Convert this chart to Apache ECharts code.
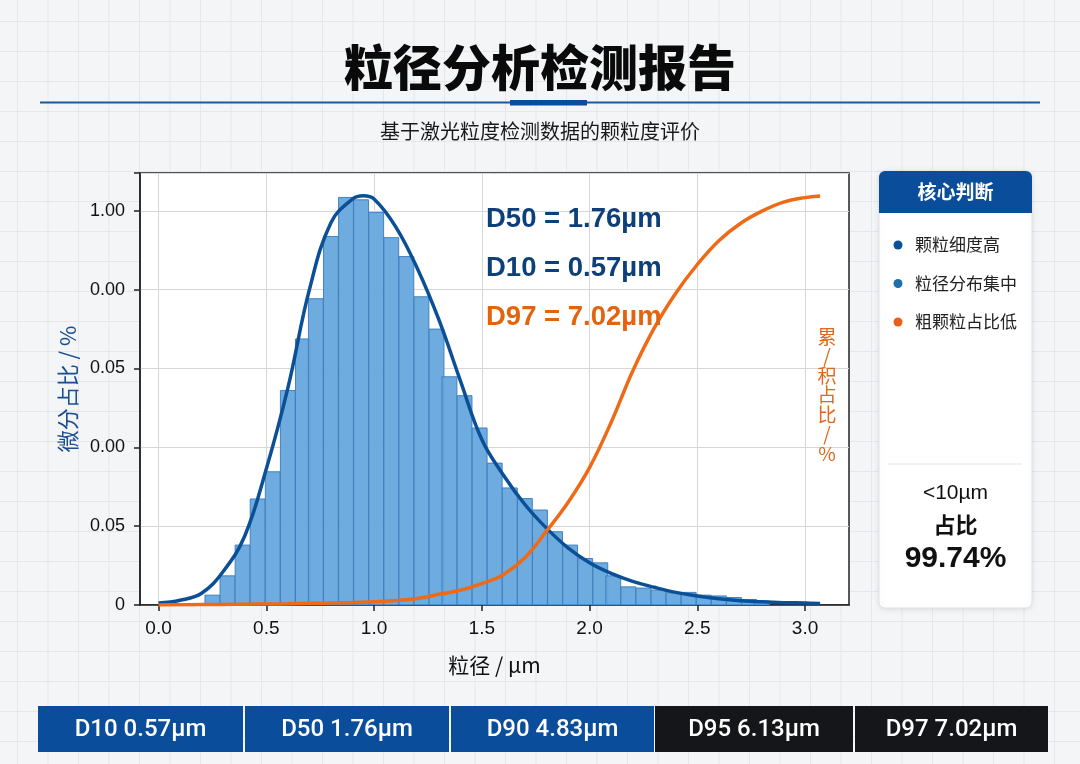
<!DOCTYPE html>
<html lang="zh">
  <head>
    <meta charset="UTF-8" />
    <title>粒径分析检测报告</title>
    <script src="https://cdn.jsdelivr.net/npm/echarts@6/dist/echarts.min.js"></script>
    <style>
      html, body { margin: 0; padding: 0; }
      body {
        background-color: #f3f5f7;
        background-image:
          linear-gradient(#e4e8ec 1px, transparent 1px),
          linear-gradient(90deg, #e4e8ec 1px, transparent 1px);
        background-size: 30.5px 30px;
        background-position: 17px 21px;
      }
      #chart { width: 1080px; height: 764px; }
    </style>
  </head>
  <body>
    <div id="chart"></div>

    <script>
      // tick labels
      const xTicks = [0, 0.5, 1.0, 1.5, 2.0, 2.5, 3.0];
      const yTickLabels = ["0", "0.05", "0.00", "0.05", "0.00", "1.00"];

      // histogram bins (centre, height)
      const binWidth = 0.069;
      const binCenters = [0.25, 0.32, 0.39, 0.46, 0.53, 0.60, 0.67, 0.73, 0.80, 0.87,
        0.94, 1.01, 1.08, 1.15, 1.22, 1.29, 1.35, 1.42, 1.49, 1.56,
        1.63, 1.70, 1.77, 1.84, 1.91, 1.98, 2.05, 2.11, 2.18, 2.25,
        2.32, 2.39, 2.46, 2.53, 2.60, 2.67, 2.74, 2.80];
      const binValues = [0.025, 0.074, 0.152, 0.269, 0.338, 0.544, 0.675, 0.777, 0.935, 1.034,
        1.028, 0.996, 0.932, 0.884, 0.782, 0.70, 0.579, 0.531, 0.449, 0.36,
        0.297, 0.27, 0.241, 0.186, 0.152, 0.118, 0.107, 0.074, 0.046, 0.043,
        0.038, 0.031, 0.032, 0.025, 0.023, 0.019, 0.014, 0.01];

      // fitted curves
      const curveX = [0, 0.1, 0.2, 0.3, 0.4, 0.5, 0.6, 0.7, 0.8, 0.9, 0.95, 1.0,
        1.1, 1.2, 1.3, 1.4, 1.5, 1.6, 1.7, 1.8, 1.9, 2.0,
        2.1, 2.2, 2.3, 2.4, 2.5, 2.6, 2.7, 2.8, 2.9, 3.0, 3.07];
      const densityValues = [0.005, 0.012, 0.03, 0.085, 0.175, 0.345, 0.55, 0.80, 0.97, 1.03, 1.038, 1.03,
        0.96, 0.855, 0.725, 0.57, 0.42, 0.33, 0.255, 0.195, 0.145, 0.107,
        0.08, 0.06, 0.045, 0.032, 0.023, 0.016, 0.011, 0.008, 0.006, 0.005, 0.004];
      const cumulativeValues = [0, 0.05, 0.1, 0.15, 0.2, 0.25, 0.3, 0.4, 0.5, 0.6, 0.7, 0.8,
        1.1, 1.6, 2.6, 3.6, 5.2, 7.4, 11.5, 18, 25, 33.5,
        44.5, 57, 67.5, 76, 83, 88.8, 93, 96, 98.2, 99.3, 99.7];

      // summary strip
      const summaryLabels = ["D10 0.57µm", "D50 1.76µm", "D90 4.83µm", "D95 6.13µm", "D97 7.02µm"];
      const insights = ["颗粒细度高", "粒径分布集中", "粗颗粒占比低"];

      const cjk = '"Noto Sans CJK SC", "Noto Sans", sans-serif';
      const latin = '"Liberation Sans", Arial, "Noto Sans CJK SC", sans-serif';

      const chart = echarts.init(document.getElementById("chart"));

      const bins = binCenters.map((c, i) => [c, binValues[i]]);
      const density = curveX.map((x, i) => [x, densityValues[i]]);
      const cumulative = curveX.map((x, i) => [x, cumulativeValues[i]]);

      // bottom strip segments
      const stripX = [38, 245, 451, 655, 855];
      const stripW = [205, 204, 203, 198, 193];
      const stripColors = ["#0a4e9b", "#0a4e9b", "#0a4e9b", "#141619", "#141619"];
      const strip = [];
      summaryLabels.forEach((t, i) => {
        strip.push({
          type: "rect",
          shape: { x: stripX[i], y: 706, width: stripW[i], height: 46 },
          style: { fill: stripColors[i] },
        });
        strip.push({
          type: "text",
          x: stripX[i] + stripW[i] / 2,
          y: 730,
          style: {
            text: t, fill: "#fff", font: '500 24px Roboto, ' + latin,
            align: "center", verticalAlign: "middle",
          },
        });
      });

      const dotColors = ["#0b4f96", "#1f6fa8", "#e8601c"];
      const panel = [
        {
          type: "rect",
          shape: { x: 879, y: 171, width: 153, height: 437, r: 6 },
          style: {
            fill: "#fff", stroke: "#dde2e8", lineWidth: 1,
            shadowBlur: 6, shadowColor: "rgba(0,0,0,0.10)", shadowOffsetY: 1,
          },
        },
        {
          type: "rect",
          shape: { x: 879, y: 171, width: 153, height: 42, r: [6, 6, 0, 0] },
          style: { fill: "#0a4e9b" },
        },
        {
          type: "text", x: 955.5, y: 192,
          style: { text: "核心判断", fill: "#fff", font: "bold 19px " + cjk, align: "center", verticalAlign: "middle" },
        },
        {
          type: "line",
          shape: { x1: 888, y1: 464, x2: 1022, y2: 464 },
          style: { stroke: "#e3e6ea", lineWidth: 1 },
        },
        {
          type: "text", x: 955.5, y: 493,
          style: { text: "<10µm", fill: "#111", font: "21px " + latin, align: "center", verticalAlign: "middle" },
        },
        {
          type: "text", x: 955.5, y: 525,
          style: { text: "占比", fill: "#111", font: "bold 22px " + cjk, align: "center", verticalAlign: "middle" },
        },
        {
          type: "text", x: 955.5, y: 559,
          style: { text: "99.74%", fill: "#111", font: "bold 30px " + latin, align: "center", verticalAlign: "middle" },
        },
      ];
      insights.forEach((t, i) => {
        const y = 245 + i * 38.5;
        panel.push({
          type: "circle", shape: { cx: 898, cy: y, r: 4.5 }, style: { fill: dotColors[i] },
        });
        panel.push({
          type: "text", x: 915, y: y,
          style: { text: t, fill: "#222", font: "17px " + cjk, verticalAlign: "middle" },
        });
      });

      const annotations = [
        { text: "D50 = 1.76µm", y: 219, color: "#0d3f7a" },
        { text: "D10 = 0.57µm", y: 268, color: "#0d3f7a" },
        { text: "D97 = 7.02µm", y: 317, color: "#e2640f" },
      ].map((a) => ({
        type: "text", x: 486, y: a.y, z: 10,
        style: { text: a.text, fill: a.color, font: "bold 27.5px " + latin, verticalAlign: "middle" },
      }));

      const option = {
        animation: false,
        grid: {
          left: 140, top: 173, right: 231, bottom: 159,
          show: true, backgroundColor: "#fff", borderColor: "#222", borderWidth: 1.5,
        },
        xAxis: {
          type: "value", min: -0.086, max: 3.204,
          name: "粒径 / µm", nameLocation: "middle", nameGap: 50,
          nameTextStyle: { fontSize: 21, color: "#111", fontFamily: cjk },
          axisLine: { show: true, onZero: false, lineStyle: { color: "#222", width: 1.5 } },
          axisTick: { show: true, length: 6, customValues: xTicks, lineStyle: { color: "#222", width: 1.5 } },
          axisLabel: {
            customValues: xTicks, margin: 14, fontSize: 19, color: "#111", fontFamily: latin,
            formatter: (v) => v.toFixed(1),
          },
          splitLine: { show: true, lineStyle: { color: "#d6d6d6", width: 1 } },
        },
        yAxis: [
          {
            type: "value", min: 0, max: 1.096, interval: 0.2,
            name: "微分占比 / %", nameLocation: "middle", nameGap: 61, nameRotate: 90,
            nameTextStyle: { fontSize: 22, color: "#1a4e8e", fontFamily: cjk },
            axisLine: { show: true, onZero: false, lineStyle: { color: "#222", width: 1.5 } },
            axisTick: { show: true, length: 6, lineStyle: { color: "#222", width: 1.5 } },
            axisLabel: {
              margin: 15, fontSize: 18, color: "#111", fontFamily: latin,
              formatter: (v) => {
                const i = Math.round(v / 0.2);
                return Math.abs(v - i * 0.2) < 1e-6 && yTickLabels[i] !== undefined ? yTickLabels[i] : "";
              },
            },
            splitLine: { show: true, lineStyle: { color: "#d6d6d6", width: 1 } },
          },
          {
            type: "value", min: 0, max: 105.3,
            axisLine: { show: false }, axisTick: { show: false },
            axisLabel: { show: false }, splitLine: { show: false },
          },
        ],
        series: [
          {
            type: "custom",
            data: bins,
            encode: { x: 0, y: 1 },
            clip: true,
            z: 2,
            renderItem: (params, api) => {
              const c = api.value(0);
              const v = api.value(1);
              const p0 = api.coord([c - binWidth / 2, v]);
              const p1 = api.coord([c + binWidth / 2, 0]);
              return {
                type: "rect",
                shape: { x: p0[0], y: p0[1], width: p1[0] - p0[0], height: p1[1] - p0[1] },
                style: { fill: "#66a6dc", stroke: "#3d7dbe", lineWidth: 1, opacity: 0.95 },
              };
            },
          },
          {
            type: "line",
            data: density,
            smooth: 0.4,
            showSymbol: false,
            z: 3,
            lineStyle: { color: "#0b4f96", width: 3.5 },
          },
          {
            type: "line",
            yAxisIndex: 1,
            data: cumulative,
            smooth: 0.4,
            showSymbol: false,
            z: 4,
            lineStyle: { color: "#ee6a17", width: 3.5 },
          },
        ],
        graphic: [
          {
            type: "text", x: 540, y: 67,
            style: { text: "粒径分析检测报告", fill: "#0a0a0a", font: "900 49px " + cjk, align: "center", verticalAlign: "middle" },
          },
          {
            type: "line",
            shape: { x1: 40, y1: 102.5, x2: 1040, y2: 102.5 },
            style: { stroke: "#1d5a9c", lineWidth: 2 },
          },
          {
            type: "rect",
            shape: { x: 510, y: 100, width: 77, height: 5.5 },
            style: { fill: "#0a4e9b" },
          },
          {
            type: "text", x: 540, y: 131,
            style: { text: "基于激光粒度检测数据的颗粒度评价", fill: "#1a1a1a", font: "20px " + cjk, align: "center", verticalAlign: "middle" },
          },
          {
            type: "text", x: 827, y: 395, z: 10,
            style: {
              text: "累\n/\n积\n占\n比\n/\n%", fill: "#e2661b", font: "19px " + cjk,
              lineHeight: 19.5, align: "center", verticalAlign: "middle",
            },
          },
          ...annotations,
          ...panel,
          ...strip,
        ],
      };

      chart.setOption(option);
    </script>
  </body>
</html>
